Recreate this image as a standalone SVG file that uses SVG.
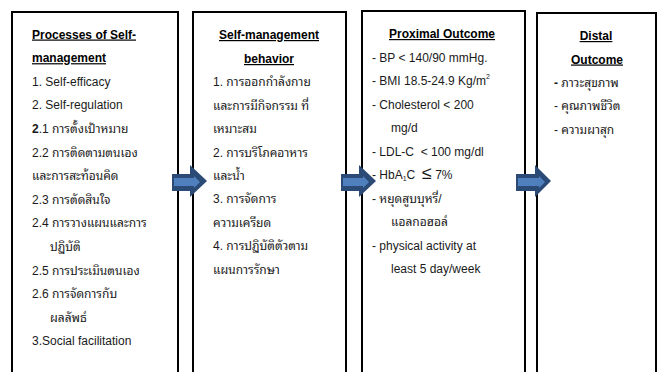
<svg xmlns="http://www.w3.org/2000/svg" width="659" height="372" viewBox="0 0 659 372">
<style>
.box{fill:#fff;stroke:#000;stroke-width:2}
text{font-family:"Liberation Sans","Noto Sans Thai Looped","Loma","Garuda","Noto Sans Thai","Noto Sans",sans-serif;font-size:12px;fill:#1a1a1a}
.h{font-weight:bold;fill:#000;text-decoration:underline}
.c{text-anchor:middle}
.ao{fill:#2b4a76}
.ai{fill:#4f7fbd}
</style>
<rect width="659" height="372" fill="#fff"/>
<g id="node-processes">
<rect class="box" x="12" y="12" width="166" height="380"/>
<text class="h" x="32" y="38.5">Processes of Self-</text>
<text class="h" x="32" y="62.2">management</text>
<text x="32" y="85.8">1. Self-efficacy</text>
<text x="32" y="109.4">2. Self-regulation</text>
<text x="32" y="133"><tspan font-weight="bold">2</tspan>.1 การตั้งเป้าหมาย</text>
<text x="32" y="156.6">2.2 การติดตามตนเอง</text>
<text x="32" y="180.2">และการสะท้อนคิด</text>
<text x="32" y="203.8">2.3 การตัดสินใจ</text>
<text x="32" y="227.4">2.4 การวางแผนและการ</text>
<text x="50" y="251">ปฏิบัติ</text>
<text x="32" y="274.6">2.5 การประเมินตนเอง</text>
<text x="32" y="298.2">2.6 การจัดการกับ</text>
<text x="50" y="321.8">ผลลัพธ์</text>
<text x="32" y="345.4">3.Social facilitation</text>
</g>
<g id="node-behavior">
<rect class="box" x="193" y="12" width="153" height="380"/>
<text class="h c" x="269" y="39">Self-management</text>
<text class="h c" x="269" y="63">behavior</text>
<text x="213" y="86.4">1. การออกกำลังกาย</text>
<text x="213" y="109.8">และการมีกิจกรรม ที่</text>
<text x="213" y="133.2">เหมาะสม</text>
<text x="213" y="156.6">2. การบริโภคอาหาร</text>
<text x="213" y="180">และน้ำ</text>
<text x="213" y="203.4">3. การจัดการ</text>
<text x="213" y="226.8">ความเครียด</text>
<text x="213" y="250.2">4. การปฏิบัติตัวตาม</text>
<text x="213" y="273.6">แผนการรักษา</text>
</g>
<g id="node-proximal">
<rect class="box" x="362" y="11" width="163" height="380"/>
<text class="h" x="389" y="38">Proximal Outcome</text>
<text x="372" y="61.5">- BP &lt; 140/90 mmHg.</text>
<text x="372" y="85">- BMI 18.5-24.9 Kg/m<tspan font-size="7" dy="-6">2</tspan></text>
<text x="372" y="108.5">- Cholesterol &lt; 200</text>
<text x="391" y="132">mg/d</text>
<text x="372" y="155.5" xml:space="preserve">- LDL-C  &lt; 100 mg/dl</text>
<text x="372" y="179" xml:space="preserve">- HbA<tspan font-size="7" dy="2">1</tspan><tspan dy="-2">C  </tspan><tspan style="font-size:18px">≤</tspan> 7%</text>
<text x="372" y="202.5">- หยุดสูบบุหรี่/</text>
<text x="391" y="226">แอลกอฮอล์</text>
<text x="372" y="249.5">- physical activity at</text>
<text x="391" y="273">least 5 day/week</text>
</g>
<g id="node-distal">
<rect class="box" x="537" y="13" width="119" height="380"/>
<text class="h c" x="596" y="40">Distal</text>
<text class="h c" x="597" y="63.5">Outcome</text>
<text x="554" y="86.5"><tspan font-weight="bold">-</tspan> ภาวะสุขภาพ</text>
<text x="554" y="110">- คุณภาพชีวิต</text>
<text x="554" y="133.5">- ความผาสุก</text>
</g>
<g id="connectors">
<g id="arrow-1">
<path class="ao" d="M172 174 H190 V165 L207 181 L190 197 V191 H172 Z"/>
<path class="ai" d="M174 178 H194 V176 L200 182 L194 188 V186 H174 Z"/>
</g>
<g id="arrow-2">
<path class="ao" d="M341 174 H359 V165 L376 181 L359 197 V191 H341 Z"/>
<path class="ai" d="M343 178 H363 V176 L369 182 L363 188 V186 H343 Z"/>
</g>
<g id="arrow-3">
<path class="ao" d="M516 174 H535 V165 L551 181 L535 197 V191 H516 Z"/>
<path class="ai" d="M518 178 H539 V176 L545 182 L539 188 V186 H518 Z"/>
</g>
</g>
</svg>
